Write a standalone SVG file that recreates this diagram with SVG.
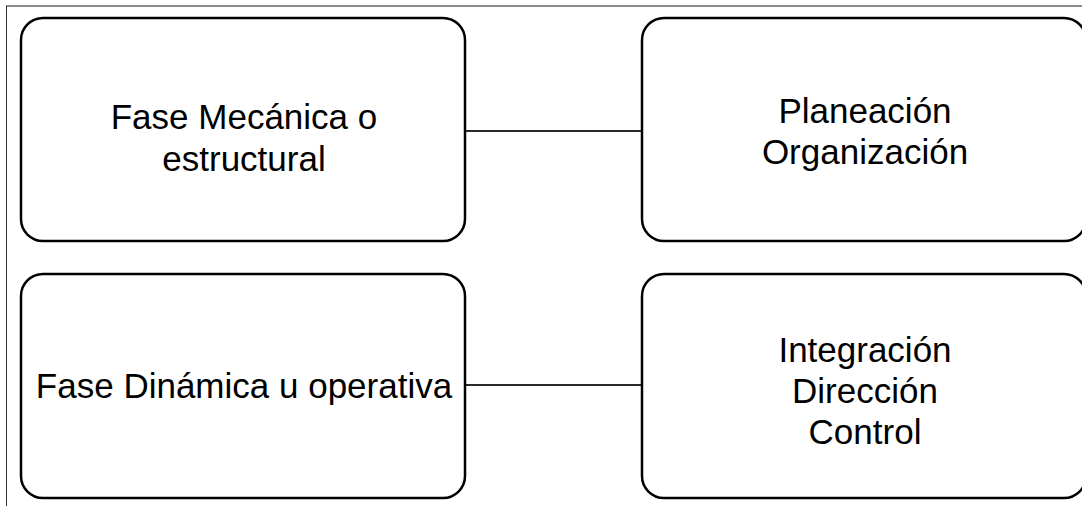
<svg xmlns="http://www.w3.org/2000/svg" width="1082" height="506" viewBox="0 0 1082 506">
<style>
.box{fill:#fff;stroke:#000;stroke-width:2.5}
.conn{stroke:#2a2a2a;stroke-width:2.2;fill:none}
.t{font-family:"Liberation Sans",Arial,sans-serif;font-size:35px;fill:#000;text-anchor:middle}
</style>
<rect width="1082" height="506" fill="#fff"/>
<line x1="6" y1="6" x2="1082" y2="6" stroke="#8c8c8c" stroke-width="2"/>
<line x1="6.5" y1="6" x2="6.5" y2="506" stroke="#333" stroke-width="1"/>
<g id="connectors">
<line class="conn" x1="465" y1="131" x2="642" y2="131"/>
<line class="conn" x1="465" y1="385" x2="642" y2="385"/>
</g>
<g id="n1">
<rect class="box" x="21" y="18" width="444" height="223" rx="22"/>
<text class="t" x="244" y="129">Fase Mecánica o</text>
<text class="t" x="244" y="171">estructural</text>
</g>
<g id="n2">
<rect class="box" x="642" y="18" width="444" height="223" rx="22"/>
<text class="t" x="865" y="123">Planeación</text>
<text class="t" x="865" y="164">Organización</text>
</g>
<g id="n3">
<rect class="box" x="21" y="274" width="444" height="224" rx="22"/>
<text class="t" x="244" y="398">Fase Dinámica u operativa</text>
</g>
<g id="n4">
<rect class="box" x="642" y="274" width="444" height="224" rx="22"/>
<text class="t" x="865" y="362">Integración</text>
<text class="t" x="865" y="403">Dirección</text>
<text class="t" x="865" y="444">Control</text>
</g>
</svg>
